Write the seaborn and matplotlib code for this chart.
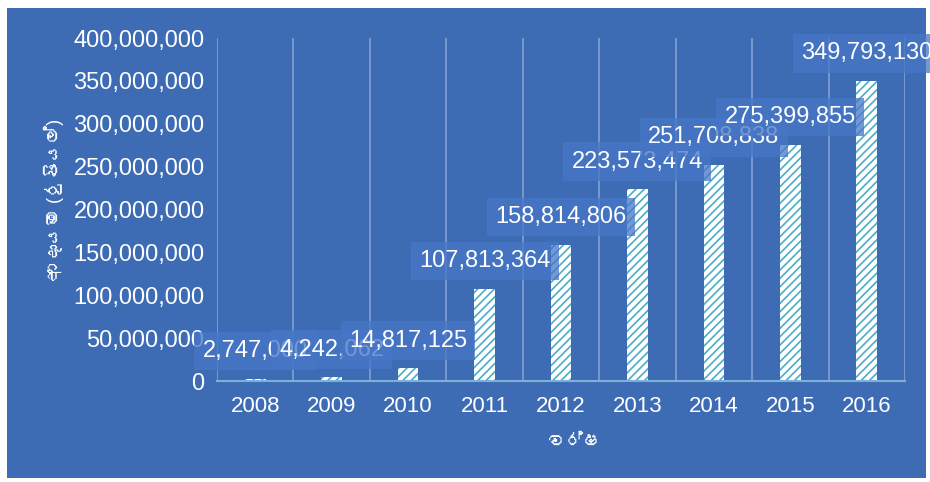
import pandas as pd
import matplotlib.pyplot as plt
import seaborn as sns
from matplotlib import font_manager
from matplotlib.ticker import FuncFormatter
from matplotlib.patches import Rectangle
from fontTools.ttLib import TTFont

# data
years = ["2008", "2009", "2010", "2011", "2012", "2013", "2014", "2015", "2016"]
revenue = [2747000, 4242062, 14817125, 107813364, 158814806,
           223573474, 251708838, 275399855, 349793130]
y_ticks = [0, 50000000, 100000000, 150000000, 200000000,
           250000000, 300000000, 350000000, 400000000]

BG = "#3D6CB5"
BOX = "#4676C6"
HATCH = "#4BACC6"


def find_sinhala_family():
    # look for any installed font that carries Sinhala glyphs
    for f in font_manager.fontManager.ttflist:
        try:
            font = TTFont(f.fname, fontNumber=0, lazy=True)
            cmap = font.getBestCmap() or {}
            if 0x0D86 in cmap and 0x0DBB in cmap:
                return f.name
        except Exception:
            continue
    return None


sns.set_theme(style="white")
families = ["Liberation Sans", "Noto Sans", "DejaVu Sans"]
sin_family = find_sinhala_family()
if sin_family:
    families.append(sin_family)
plt.rcParams["font.family"] = families
plt.rcParams["hatch.linewidth"] = 1.2

df = pd.DataFrame({"year": years, "revenue": revenue})

fig = plt.figure(figsize=(9.3, 4.82), dpi=100, facecolor="white")
# blue chart area with thin white margin
fig.patches.append(Rectangle((7 / 930, 4 / 482), 919 / 930, 470 / 482,
                             transform=fig.transFigure, facecolor=BG,
                             edgecolor="none", zorder=-5))
ax = fig.add_axes([217 / 930, 101 / 482, 688 / 930, 343 / 482])
ax.set_facecolor(BG)

sns.barplot(data=df, x="year", y="revenue", color="white", saturation=1,
            width=0.27, ax=ax, zorder=3)
for p in ax.patches:
    p.set_hatch("////")
    p.set_edgecolor(HATCH)
    p.set_linewidth(0)

ax.set_ylim(0, 400000000)
ax.set_xlim(-0.5, len(years) - 0.5)
ax.set_yticks(y_ticks)
ax.yaxis.set_major_formatter(FuncFormatter(lambda v, _: f"{int(v):,}"))

# vertical gridlines between categories
for i in range(len(years) + 1):
    ax.axvline(i - 0.5, color="#7D9DD0", lw=1.3, zorder=1)

for s in ["top", "right", "left"]:
    ax.spines[s].set_visible(False)
ax.spines["bottom"].set_color("#7FB0D6")
ax.spines["bottom"].set_linewidth(1.5)
ax.spines["bottom"].set_zorder(4)

ax.tick_params(axis="y", length=0, pad=9, labelsize=17, labelcolor="white")
ax.tick_params(axis="x", length=0, pad=11, labelsize=16, labelcolor="white")

ax.set_xlabel("වර්ෂ", color="white", fontsize=13)
ax.set_ylabel("ආදායම (රුපියල්)", color="white", fontsize=13)
ax.xaxis.set_label_coords(0.52, -0.155)
ax.yaxis.set_label_coords(-0.222, 0.53)

# data labels in semi-transparent boxes
for i, v in enumerate(revenue):
    ax.annotate(f"{v:,}", xy=(i, v), xytext=(0, 20), textcoords="offset points",
                ha="center", va="center", color="white", fontsize=17, zorder=5,
                bbox=dict(boxstyle="square,pad=0.35", facecolor=BOX,
                          edgecolor="none", alpha=0.75))

fig.savefig("out.png", dpi=100, facecolor="white")
